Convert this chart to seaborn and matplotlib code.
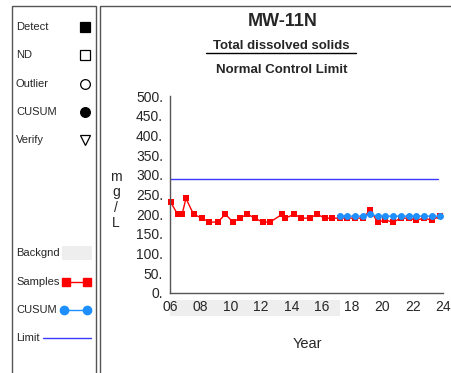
import matplotlib
matplotlib.use("Agg")
import matplotlib.pyplot as plt
from matplotlib.patches import Rectangle
import matplotlib.transforms as mtransforms
import seaborn as sns
import pandas as pd

# values
sample_year = [2006.05, 2006.5, 2006.8, 2007.05, 2007.55, 2008.1, 2008.6, 2009.15, 2009.65,
               2010.15, 2010.6, 2011.1, 2011.6, 2012.1, 2012.6, 2013.4, 2013.6, 2014.2,
               2014.65, 2015.2, 2015.7, 2016.2, 2016.7, 2017.2, 2017.7, 2018.2, 2018.7,
               2019.2, 2019.7, 2020.2, 2020.7, 2021.25, 2021.75, 2022.25, 2022.75, 2023.25, 2023.8]
sample_tds = [230, 200, 200, 240, 200, 190, 180, 180, 200, 180, 190, 200, 190, 180, 180, 200,
              190, 200, 190, 190, 200, 190, 190, 190, 190, 190, 190, 210, 180, 185, 180, 190,
              190, 185, 190, 185, 195]
cusum_year = [2017.2, 2017.7, 2018.2, 2018.7, 2019.2, 2019.7, 2020.2, 2020.7, 2021.25,
              2021.75, 2022.25, 2022.75, 2023.25, 2023.8]
cusum_tds = [195, 195, 195, 195, 200, 195, 195, 195, 195, 195, 195, 195, 195, 195]
limit_year = [2006.0, 2023.7]
limit_tds = [290, 290]
backgnd_years = [2006.0, 2017.2]
y_ticks = [0, 50, 100, 150, 200, 250, 300, 350, 400, 450, 500]
x_ticks = [2006, 2008, 2010, 2012, 2014, 2016, 2018, 2020, 2022, 2024]

sns.set_style("white")
plt.rcParams['font.family'] = ['Liberation Sans', 'DejaVu Sans']

W, H = 452, 373
fig = plt.figure(figsize=(W / 100, H / 100), dpi=100)

# overlay in pixel coords for frames and the legend panel
ov = fig.add_axes([0, 0, 1, 1])
ov.set_xlim(0, W)
ov.set_ylim(H, 0)
ov.axis("off")
ov.add_patch(Rectangle((12, 6), 84, 380, fill=False, ec="#555555", lw=1, clip_on=False))
ov.add_patch(Rectangle((100, 6), 400, 380, fill=False, ec="#555555", lw=1, clip_on=False))

fs = 8
items = [("Detect", 27, dict(marker="s", color="black", mfc="black")),
         ("ND", 55, dict(marker="s", color="black", mfc="white")),
         ("Outlier", 84, dict(marker="o", color="black", mfc="white")),
         ("CUSUM", 112, dict(marker="o", color="black", mfc="black")),
         ("Verify", 140, dict(marker="v", color="black", mfc="white"))]
for label, y, st in items:
    ov.text(16, y, label, fontsize=fs, va="center", ha="left")
    ov.plot([85], [y], ls="none", ms=7, mew=0.9, **st)

ov.text(16, 253, "Backgnd", fontsize=fs, va="center")
ov.add_patch(Rectangle((62, 246), 30, 14, fc="#eeeeee", ec="none"))
ov.text(16, 282, "Samples", fontsize=fs, va="center")
ov.plot([66, 87], [282, 282], color="red", marker="s", ms=6, lw=1)
ov.text(16, 310, "CUSUM", fontsize=fs, va="center")
ov.plot([64, 87], [310, 310], color="#1e8fff", marker="o", ms=6, lw=1)
ov.text(16, 338, "Limit", fontsize=fs, va="center")
ov.plot([43, 91], [338, 338], color="#3a3aff", lw=1)

ov.text(283, 22, "MW-11N", fontsize=13, fontweight="bold", ha="center", va="center")
ov.text(281, 46, "Total dissolved solids", fontsize=9.5, fontweight="bold", ha="center", va="center")
ov.plot([206, 356], [53, 53], color="black", lw=1)
ov.text(282, 70, "Normal Control Limit", fontsize=9.5, fontweight="bold", ha="center", va="center")
ov.text(116, 200, "m\ng\n/\nL", fontsize=10, ha="center", va="center", linespacing=1.15)
ov.text(307, 344, "Year", fontsize=10.5, ha="center", va="center")

# main chart
ax = fig.add_axes([170 / W, (H - 293) / H, 273 / W, 197 / H])
samples = pd.DataFrame({"year": sample_year, "tds": sample_tds})
cusum = pd.DataFrame({"year": cusum_year, "tds": cusum_tds})
limit = pd.DataFrame({"year": limit_year, "tds": limit_tds})

sns.lineplot(data=limit, x="year", y="tds", ax=ax, color="#3a3aff", lw=1)
sns.lineplot(data=samples, x="year", y="tds", ax=ax, color="red", marker="s",
             markersize=5, markeredgewidth=0, lw=1, clip_on=False)
sns.lineplot(data=cusum, x="year", y="tds", ax=ax, color="#1e8fff", marker="o",
             markersize=5, markeredgewidth=0, lw=1, clip_on=False)

ax.set_xlim(2006, 2024)
ax.set_ylim(0, 500)
ax.set_xticks(x_ticks)
ax.set_xticklabels([f"{y % 100:02d}" for y in x_ticks])
ax.set_xticks(range(2006, 2025), minor=True)
ax.set_yticks(y_ticks)
ax.set_yticklabels([f"{v}." for v in y_ticks])
ax.set_xlabel("")
ax.set_ylabel("")
for s in ["top", "right"]:
    ax.spines[s].set_visible(False)
for s in ["left", "bottom"]:
    ax.spines[s].set_color("#555555")
    ax.spines[s].set_linewidth(1)
ax.tick_params(axis="both", which="both", direction="out", color="#555555",
               labelsize=10, width=1, pad=1)
ax.tick_params(axis="x", which="major", length=4)
ax.tick_params(axis="x", which="minor", length=3)
ax.tick_params(axis="y", length=4)

# background period band under the x axis
trans = mtransforms.blended_transform_factory(ax.transData, ax.transAxes)
ax.add_patch(Rectangle((backgnd_years[0], -0.115), backgnd_years[1] - backgnd_years[0], 0.08,
                       transform=trans, fc="#eeeeee", ec="none", clip_on=False, zorder=0))

fig.savefig("out.png", dpi=100)
